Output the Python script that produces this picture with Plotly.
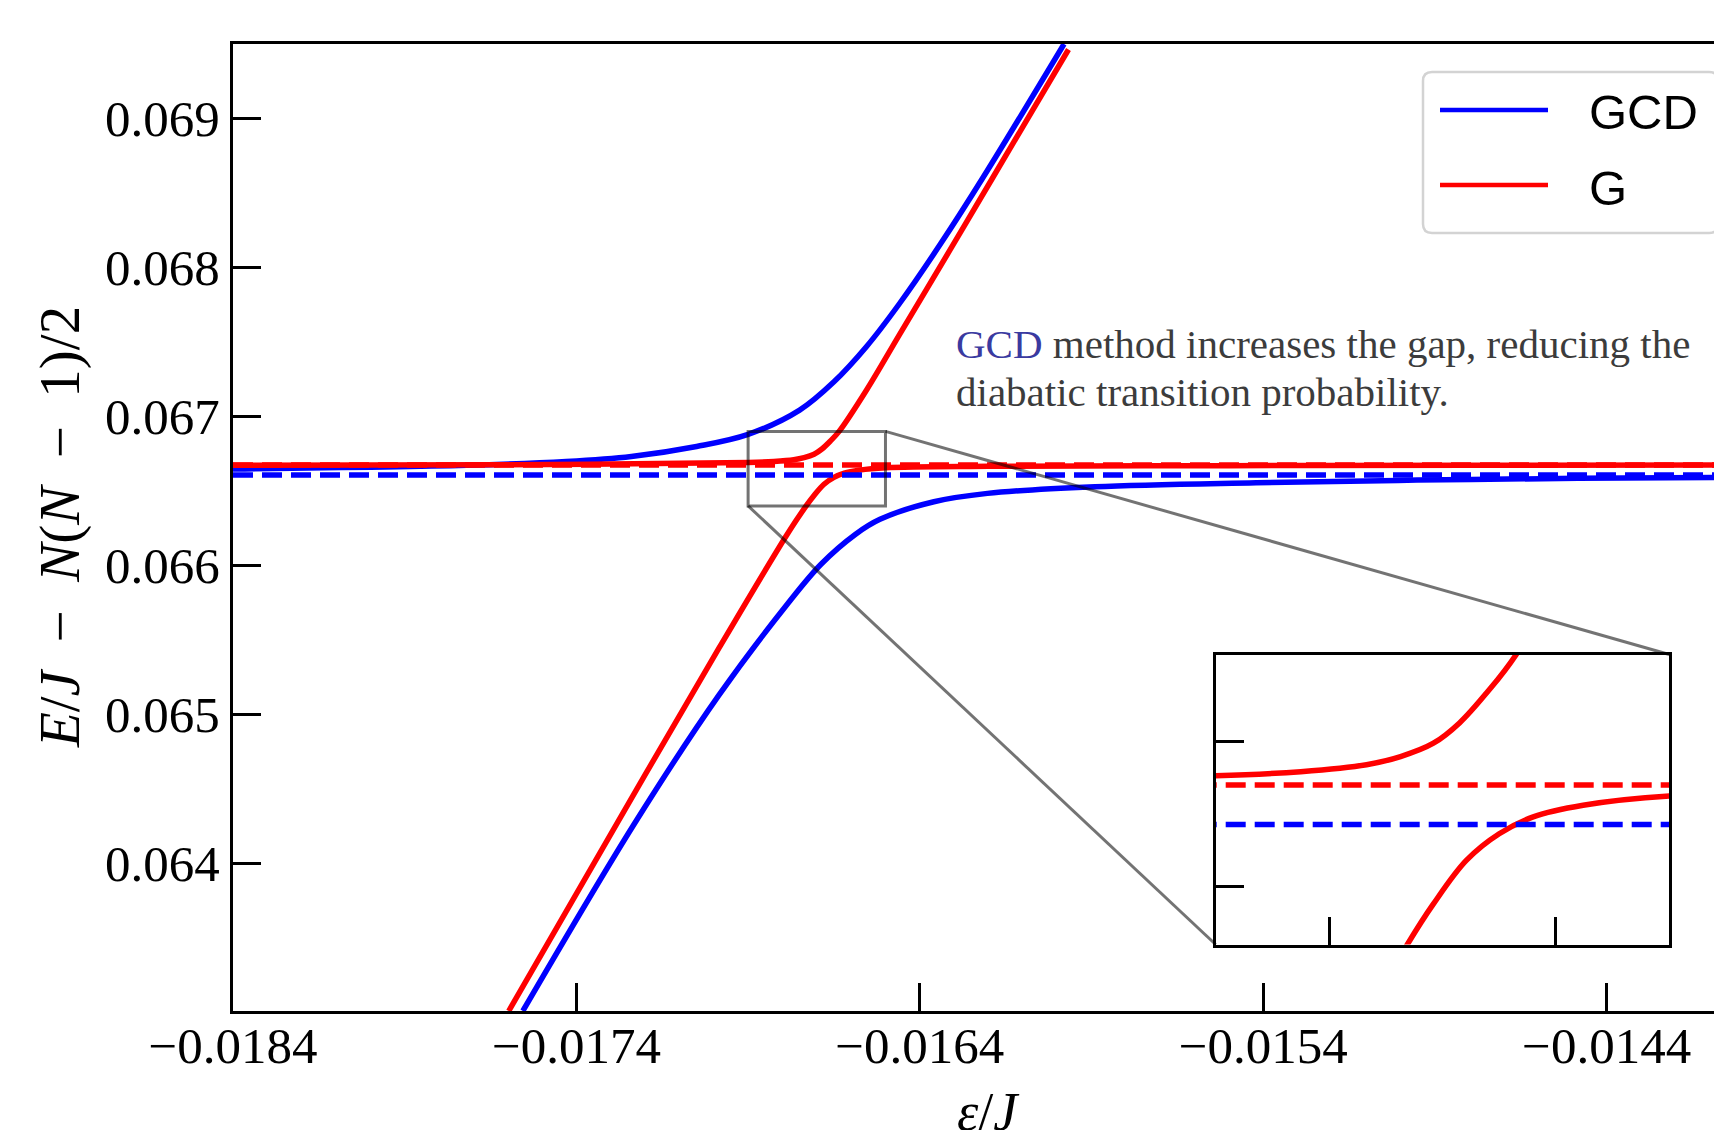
import plotly.graph_objects as go

# ---------------- data ----------------
# GCD (blue) adiabatic levels
eps_gcd_upper = [-0.0184, -0.01772, -0.01743, -0.01724, -0.01705, -0.01690, -0.01675,
                 -0.01665, -0.016555, -0.01646, -0.01634, -0.016215, -0.01598]
E_gcd_upper = [0.066647, 0.066672, 0.066698, 0.066732, 0.066799, 0.066880, 0.067043,
               0.067233, 0.067470, 0.067755, 0.068157, 0.068607, 0.069500]

eps_gcd_lower = [-0.017556, -0.017233, -0.016985, -0.016786, -0.016687, -0.016587, -0.016516,
                 -0.016359, -0.016203, -0.01589, -0.015421, -0.014952, -0.014483, -0.014064]
E_gcd_lower = [0.06301, 0.064260, 0.065130, 0.065740, 0.066010, 0.066210, 0.066310,
               0.066428, 0.066484, 0.066528, 0.066555, 0.066573, 0.066585, 0.066591]

# G (red) adiabatic levels
eps_g_upper = [-0.0184, -0.01763, -0.0169, -0.016825, -0.016767, -0.016737, -0.016708,
               -0.016685, -0.016661, -0.016635, -0.016555, -0.016457, -0.016312, -0.016186, -0.015967]
E_g_upper = [0.066672, 0.066676, 0.066691, 0.066698, 0.066710, 0.066724, 0.066747,
             0.066782, 0.066834, 0.066900, 0.067178, 0.067558, 0.068118, 0.068609, 0.069463]

eps_g_lower = [-0.017597, -0.017283, -0.016985, -0.016786, -0.016731, -0.016708, -0.016679,
               -0.01665, -0.01662, -0.016576, -0.0165, -0.0162, -0.0155, -0.0148, -0.014064]
E_g_lower = [0.06301, 0.064265, 0.065445, 0.066210, 0.066400, 0.066470, 0.066545,
             0.066591, 0.066620, 0.066640, 0.066656, 0.066666, 0.066670, 0.066672, 0.066674]

# horizontal (dashed) reference levels
eps_span = [-0.0184, -0.014064]
E_gcd_dashed = [0.066607, 0.066607]
E_g_dashed = [0.066675, 0.066675]

# ticks
x_ticks = [-0.0184, -0.0174, -0.0164, -0.0154, -0.0144]
x_ticklabels = ["\u22120.0184", "\u22120.0174", "\u22120.0164", "\u22120.0154", "\u22120.0144"]
y_ticks = [0.064, 0.065, 0.066, 0.067, 0.068, 0.069]
y_ticklabels = ["0.064", "0.065", "0.066", "0.067", "0.068", "0.069"]
inset_x_ticks = [-0.0168, -0.0166]
inset_y_ticks = [0.0665, 0.06675]

X_RANGE = [-0.0184, -0.014064]
Y_RANGE = [0.06301, 0.0695]
ZOOM_X = [-0.0169, -0.0165]
ZOOM_Y = [0.0664, 0.0669]

# ---------------- styling ----------------
OFF = 8                       # page body margin of the generated html
W, H = 1722 - OFF, 1130 - OFF
ML, MR, MT, MB = 233 - OFF, 0, 44 - OFF, 119
PW, PH = W - ML - MR, H - MT - MB
BLUE, RED = "#0000ff", "#ff0000"
LW = 5.5
DASH = "20px,9px"
SMOOTH = 1.0
SERIF = "Liberation Serif"
SANS = "Liberation Sans"


def px_x(px):                  # page x pixel -> paper
    return (px - OFF - ML) / PW


def px_y(py):                  # page y pixel -> paper
    return (H - MB - (py - OFF)) / PH


INSET_XDOM = [px_x(1215.7), px_x(1669.3)]
INSET_YDOM = [px_y(944.5), px_y(654.5)]

fig = go.Figure()

spl = dict(shape="spline", smoothing=SMOOTH)
# main traces
fig.add_trace(go.Scatter(x=eps_gcd_upper, y=E_gcd_upper, mode="lines", name="GCD",
                         line=dict(color=BLUE, width=LW, **spl)))
fig.add_trace(go.Scatter(x=eps_gcd_lower, y=E_gcd_lower, mode="lines", name="GCD",
                         line=dict(color=BLUE, width=LW, **spl)))
fig.add_trace(go.Scatter(x=eps_g_upper, y=E_g_upper, mode="lines", name="G",
                         line=dict(color=RED, width=LW, **spl)))
fig.add_trace(go.Scatter(x=eps_g_lower, y=E_g_lower, mode="lines", name="G",
                         line=dict(color=RED, width=LW, **spl)))
fig.add_trace(go.Scatter(x=eps_span, y=E_gcd_dashed, mode="lines", name="GCD level",
                         line=dict(color=BLUE, width=LW, dash=DASH)))
fig.add_trace(go.Scatter(x=eps_span, y=E_g_dashed, mode="lines", name="G level",
                         line=dict(color=RED, width=LW, dash=DASH)))

# inset traces (G only + dashed levels)
for xs, ys, col, dash in [(eps_g_upper, E_g_upper, RED, None),
                          (eps_g_lower, E_g_lower, RED, None),
                          (eps_span, E_gcd_dashed, BLUE, DASH),
                          (eps_span, E_g_dashed, RED, DASH)]:
    ln = dict(color=col, width=LW)
    if dash:
        ln["dash"] = dash
    else:
        ln.update(spl)
    fig.add_trace(go.Scatter(x=xs, y=ys, mode="lines", xaxis="x2", yaxis="y2", line=ln))

axis_common = dict(showgrid=False, zeroline=False, ticks="inside", ticklen=28, tickwidth=2.5,
                   tickcolor="black", showline=True, linewidth=3, linecolor="black")

fig.update_layout(
    width=W, height=H,
    margin=dict(l=ML, r=MR, t=MT, b=MB),
    paper_bgcolor="white", plot_bgcolor="white",
    showlegend=False,
    font=dict(family=SERIF, size=51, color="black"),
    xaxis=dict(range=X_RANGE, tickvals=x_ticks, ticktext=x_ticklabels, mirror=True,
               ticklabelstandoff=-12, **axis_common),
    yaxis=dict(range=Y_RANGE, tickvals=y_ticks, ticktext=y_ticklabels, mirror=False,
               ticklabelstandoff=0, **axis_common),
    xaxis2=dict(domain=INSET_XDOM, anchor="y2", range=ZOOM_X, tickvals=inset_x_ticks,
                showticklabels=False, mirror=True, **axis_common),
    yaxis2=dict(domain=INSET_YDOM, anchor="x2", range=ZOOM_Y, tickvals=inset_y_ticks,
                showticklabels=False, mirror=True, **axis_common),
)

# zoom rectangle + connectors
GRAY = "rgba(0,0,0,0.55)"


def data_to_paper_x(v):
    return (v - X_RANGE[0]) / (X_RANGE[1] - X_RANGE[0])


def data_to_paper_y(v):
    return (v - Y_RANGE[0]) / (Y_RANGE[1] - Y_RANGE[0])


shapes = [
    dict(type="rect", xref="x", yref="y", x0=ZOOM_X[0], x1=ZOOM_X[1], y0=ZOOM_Y[0], y1=ZOOM_Y[1],
         line=dict(color=GRAY, width=3), layer="above"),
    dict(type="line", xref="paper", yref="paper",
         x0=data_to_paper_x(ZOOM_X[1]), y0=data_to_paper_y(ZOOM_Y[1]),
         x1=INSET_XDOM[1], y1=INSET_YDOM[1], line=dict(color=GRAY, width=3), layer="above"),
    dict(type="line", xref="paper", yref="paper",
         x0=data_to_paper_x(ZOOM_X[0]), y0=data_to_paper_y(ZOOM_Y[0]),
         x1=INSET_XDOM[0], y1=INSET_YDOM[0], line=dict(color=GRAY, width=3), layer="above"),
]

# legend box (rounded), drawn by hand to match the long line samples
bx0, bx1 = px_x(1423), px_x(1718)
by0, by1 = px_y(233), px_y(72)
rx, ry = 9 / PW, 9 / PH
path = (f"M{bx0 + rx},{by1} L{bx1 - rx},{by1} Q{bx1},{by1} {bx1},{by1 - ry} "
        f"L{bx1},{by0 + ry} Q{bx1},{by0} {bx1 - rx},{by0} L{bx0 + rx},{by0} "
        f"Q{bx0},{by0} {bx0},{by0 + ry} L{bx0},{by1 - ry} Q{bx0},{by1} {bx0 + rx},{by1} Z")
shapes.append(dict(type="path", xref="paper", yref="paper", path=path,
                   line=dict(color="#d3d3d3", width=2.5), fillcolor="white", layer="above"))
legend_items = [("GCD", BLUE, 110, 112), ("G", RED, 185, 188)]
for label, col, ly, ty in legend_items:
    shapes.append(dict(type="line", xref="paper", yref="paper", x0=px_x(1440), x1=px_x(1548),
                       y0=px_y(ly), y1=px_y(ly), line=dict(color=col, width=4.5), layer="above"))
fig.update_layout(shapes=shapes)

annotations = []
for label, col, ly, ty in legend_items:
    annotations.append(dict(xref="paper", yref="paper", x=px_x(1587), y=px_y(ty), xanchor="left",
                            yanchor="middle", text=label, showarrow=False,
                            font=dict(family=SANS, size=49, color="black")))

# axis titles
annotations.append(dict(xref="paper", yref="paper", x=px_x(60), y=px_y(527), xanchor="center",
                        yanchor="middle", textangle=-90, showarrow=False,
                        text="<i>E</i>/<i>J</i>\u2002\u2212\u2002<i>N</i>(<i>N</i>\u2002\u2212\u20021)/2",
                        font=dict(family=SERIF, size=57, color="black")))
annotations.append(dict(xref="paper", yref="paper", x=px_x(988), y=px_y(1112), xanchor="center",
                        yanchor="middle", showarrow=False, text="<i>\u03b5</i>/<i>J</i>",
                        font=dict(family=SERIF, size=54, color="black")))

# explanatory text (two lines)
annotations.append(dict(xref="paper", yref="paper", x=px_x(954), y=px_y(344), xanchor="left",
                        yanchor="middle", align="left", showarrow=False,
                        text="<span style='color:#3a3aa0'>GCD</span> method increases the gap, reducing the",
                        font=dict(family=SERIF, size=41, color="#3c3c3c")))
annotations.append(dict(xref="paper", yref="paper", x=px_x(954), y=px_y(392), xanchor="left",
                        yanchor="middle", align="left", showarrow=False,
                        text="diabatic transition probability.",
                        font=dict(family=SERIF, size=41, color="#3c3c3c")))
fig.update_layout(annotations=annotations)

fig.write_html("out.html")
